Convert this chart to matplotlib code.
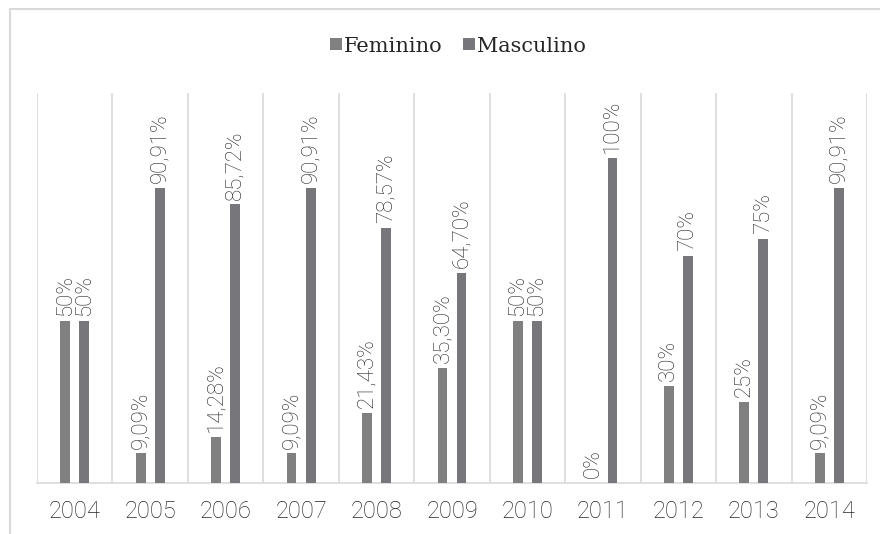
import matplotlib.pyplot as plt
from matplotlib.lines import Line2D
import numpy as np

years = ['2004', '2005', '2006', '2007', '2008', '2009', '2010', '2011', '2012', '2013', '2014']
feminino = [50, 9.09, 14.28, 9.09, 21.43, 35.30, 50, 0, 30, 25, 9.09]
masculino = [50, 90.91, 85.72, 90.91, 78.57, 64.70, 50, 100, 70, 75, 90.91]
fem_labels = ['50%', '9,09%', '14,28%', '9,09%', '21,43%', '35,30%', '50%', '0%', '30%', '25%', '9,09%']
masc_labels = ['50%', '90,91%', '85,72%', '90,91%', '78,57%', '64,70%', '50%', '100%', '70%', '75%', '90,91%']

fem_color = '#808081'
masc_color = '#77777b'
grid_color = '#d9d9d9'
text_color = '#262626'

fig = plt.figure(figsize=(8.8, 5.34), dpi=100)
ax = fig.add_axes([37 / 880, 51 / 534, 830 / 880, 390 / 534])

# outer chart frame: only left and top edges are visible
fy = 1 - 9 / 534
fx = 10 / 880
fig.add_artist(Line2D([fx, fx, 1.0], [0, fy, fy], transform=fig.transFigure,
                      color=grid_color, linewidth=1.5))

x = np.arange(len(years))
w = 0.13
off = 0.127
b1 = ax.bar(x - off, feminino, w, color=fem_color, label='Feminino', zorder=3)
b2 = ax.bar(x + off, masculino, w, color=masc_color, label='Masculino', zorder=3)

lbl_font = {'family': 'Roboto', 'weight': 'light', 'size': 16}
for xi, v, lab in zip(x, feminino, fem_labels):
    ax.text(xi - off, v + 1.5, lab, rotation=90, ha='center', va='bottom',
            color=text_color, fontdict=lbl_font)
for xi, v, lab in zip(x, masculino, masc_labels):
    ax.text(xi + off, v + 1.5, lab, rotation=90, ha='center', va='bottom',
            color=text_color, fontdict=lbl_font)

# vertical separators between years
for b in np.arange(-0.5, len(years), 1.0):
    ax.axvline(b, color=grid_color, linewidth=1.2, zorder=1)

ax.set_xlim(-0.5, len(years) - 0.5)
ax.set_ylim(0, 120)
ax.set_xticks(x)
ax.set_xticklabels(years, fontsize=17, color=text_color, family='Roboto', weight='light')
ax.tick_params(axis='x', length=0, pad=12)
ax.set_yticks([])
for s in ['top', 'right', 'left']:
    ax.spines[s].set_visible(False)
ax.spines['bottom'].set_color(grid_color)
ax.spines['bottom'].set_linewidth(1.2)

leg = fig.legend(handles=[b1, b2], loc='center', bbox_to_anchor=(458 / 880, 1 - 46 / 534),
                 ncol=2, frameon=False, handlelength=0.55, handleheight=0.55,
                 handletextpad=0.1, columnspacing=1.0,
                 prop={'family': 'DejaVu Serif', 'size': 15})
for t in leg.get_texts():
    t.set_color(text_color)

fig.savefig('out.png', dpi=100)
